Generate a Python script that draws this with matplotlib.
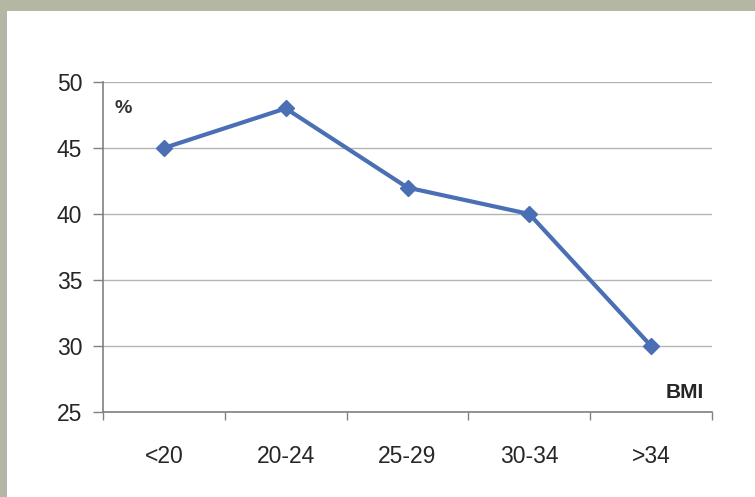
import matplotlib.pyplot as plt
from matplotlib.patches import Rectangle
from matplotlib.ticker import FixedLocator

# BMI groups and percentages
categories = ["<20", "20-24", "25-29", "30-34", ">34"]
percent = [45, 48, 42, 40, 30]
yticks = [25, 30, 35, 40, 45, 50]

plt.rcParams['font.family'] = ['Liberation Sans', 'DejaVu Sans']

fig = plt.figure(figsize=(7.55, 4.97), dpi=100)
fig.patch.set_facecolor("#b5b7a5")
fig.patches.append(Rectangle((7 / 755, 0), 1, 1 - 11 / 497, transform=fig.transFigure,
                             facecolor="white", edgecolor="none", zorder=-1))

ax = fig.add_axes([103 / 755, 1 - 412 / 497, 609 / 755, 330 / 497])
ax.set_facecolor("white")

x = list(range(len(categories)))
ax.plot(x, percent, color="#4a6fb5", linewidth=3, marker="D", markersize=8.5,
        markerfacecolor="#4a6fb5", markeredgecolor="#4a6fb5", zorder=3)

ax.set_xlim(-0.5, len(categories) - 0.5)
ax.set_ylim(25, 50)
ax.set_yticks(yticks)
ax.set_xticks(x)
ax.set_xticklabels(categories)
ax.xaxis.set_minor_locator(FixedLocator([i - 0.5 for i in range(len(categories) + 1)]))

ax.yaxis.grid(True, color="#b4b4b4", linewidth=1)
ax.set_axisbelow(True)

for side in ["top", "right"]:
    ax.spines[side].set_visible(False)
for side in ["left", "bottom"]:
    ax.spines[side].set_color("#808080")
    ax.spines[side].set_linewidth(1.2)

ax.tick_params(axis="y", length=7, width=1, color="#808080", pad=8,
               labelsize=16.5, labelcolor="#262626")
ax.tick_params(axis="x", which="major", length=0, pad=24,
               labelsize=16.5, labelcolor="#262626")
ax.tick_params(axis="x", which="minor", length=6, width=1, color="#808080")

ax.text(0.033, 0.921, "%", transform=ax.transAxes, ha="center", va="center",
        fontsize=14, fontweight="bold", color="#333333")
ax.text(0.956, 0.058, "BMI", transform=ax.transAxes, ha="center", va="center",
        fontsize=15, fontweight="bold", color="#262626")

plt.savefig("out.png", dpi=100, facecolor=fig.get_facecolor())
